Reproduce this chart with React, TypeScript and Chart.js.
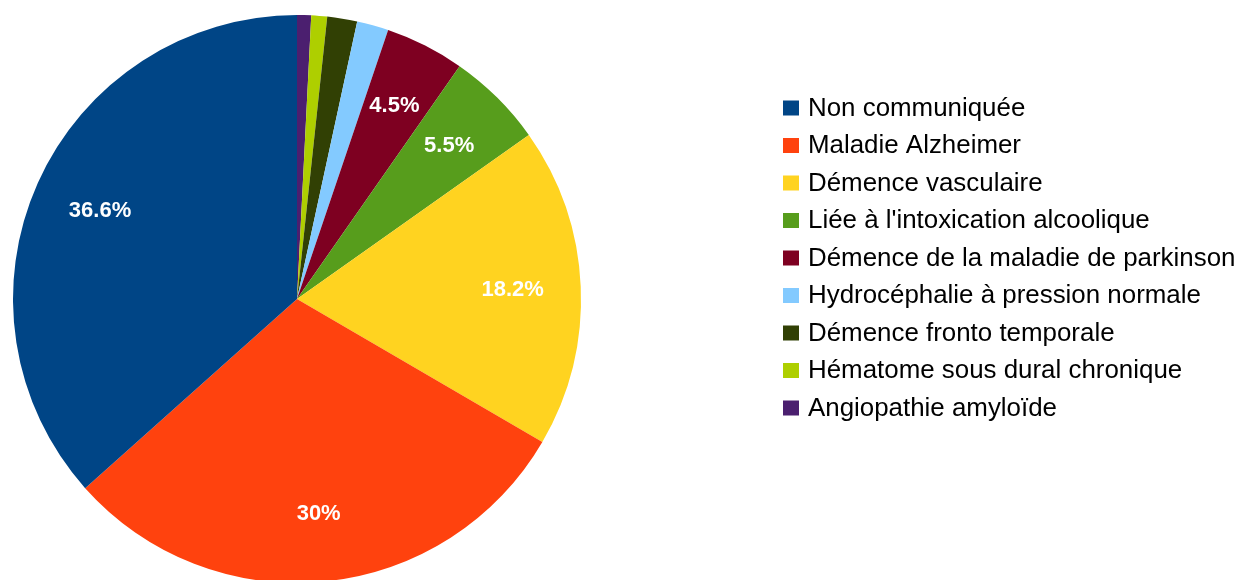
import { useEffect, useRef } from "react";
import { Chart, registerables } from "chart.js";

Chart.register(...registerables);

// Legend order (as in the reference legend)
const categories = [
  "Non communiquée",
  "Maladie Alzheimer",
  "Démence vasculaire",
  "Liée à l'intoxication alcoolique",
  "Démence de la maladie de parkinson",
  "Hydrocéphalie à pression normale",
  "Démence fronto temporale",
  "Hématome sous dural chronique",
  "Angiopathie amyloïde",
];
const percentages = [36.6, 30, 18.2, 5.5, 4.5, 1.8, 1.7, 0.9, 0.8];
const colors = [
  "#004586",
  "#ff420e",
  "#ffd320",
  "#579d1c",
  "#7e0021",
  "#83caff",
  "#314004",
  "#aecf00",
  "#4b1f6f",
];
const LABEL_MIN = 4;

const FONT = '"Liberation Sans", Arial, sans-serif';

const pctPlugin = {
  id: "pctLabels",
  afterDatasetsDraw(chart: any) {
    const meta = chart.getDatasetMeta(0);
    const data = chart.data.datasets[0].data as number[];
    const ctx = chart.ctx as CanvasRenderingContext2D;
    ctx.save();
    ctx.font = `bold 22px ${FONT}`;
    ctx.fillStyle = "#ffffff";
    ctx.textAlign = "center";
    ctx.textBaseline = "middle";
    meta.data.forEach((arc: any, j: number) => {
      const v = data[j];
      if (v < LABEL_MIN) return;
      const p = arc.getProps(["x", "y", "startAngle", "endAngle", "outerRadius"], true);
      const mid = (p.startAngle + p.endAngle) / 2;
      const r = p.outerRadius * 0.76;
      ctx.fillText(`${v}%`, p.x + Math.cos(mid) * r, p.y + Math.sin(mid) * r);
    });
    ctx.restore();
  },
};

const legendPlugin = {
  id: "sideLegend",
  afterDraw(chart: any) {
    const ctx = chart.ctx as CanvasRenderingContext2D;
    ctx.save();
    ctx.font = `25.9px ${FONT}`;
    ctx.textAlign = "left";
    ctx.textBaseline = "alphabetic";
    categories.forEach((c, i) => {
      const base = 115.5 + i * 37.5;
      ctx.fillStyle = colors[i];
      ctx.fillRect(783, base - 15, 16, 15);
      ctx.fillStyle = "#000000";
      ctx.fillText(c, 808, base);
    });
    ctx.restore();
  },
};

export default function App() {
  const ref = useRef<HTMLCanvasElement | null>(null);

  useEffect(() => {
    if (!ref.current) return;
    // Chart.js draws clockwise; the reference runs counter-clockwise from the top,
    // so the dataset is fed in reverse order.
    const revLabels = [...categories].reverse();
    const revValues = [...percentages].reverse();
    const revColors = [...colors].reverse();
    const chart = new Chart(ref.current, {
      type: "pie",
      data: {
        labels: revLabels,
        datasets: [
          {
            data: revValues,
            backgroundColor: revColors,
            borderWidth: 0,
          },
        ],
      },
      options: {
        responsive: false,
        animation: false,
        devicePixelRatio: 1,
        layout: { padding: { top: 15, left: 13, bottom: 17, right: 658 } },
        plugins: {
          legend: { display: false },
          tooltip: { enabled: false },
        },
      },
      plugins: [pctPlugin, legendPlugin],
    });
    return () => chart.destroy();
  }, []);

  return (
    <div
      style={{
        position: "fixed",
        left: 0,
        top: 0,
        width: 1239,
        height: 580,
        overflow: "hidden",
        background: "#ffffff",
      }}
    >
      <canvas ref={ref} width={1239} height={600} style={{ display: "block", width: 1239, height: 600 }} />
    </div>
  );
}
